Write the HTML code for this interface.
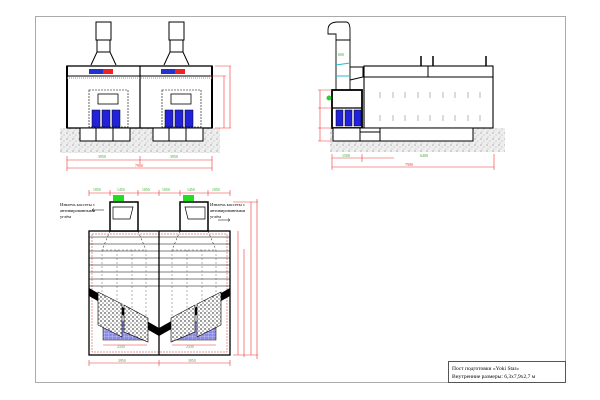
<!DOCTYPE html>
<html><head><meta charset="utf-8"><style>
html,body{margin:0;padding:0;background:#fff;}
svg{display:block;}
text{font-family:"Liberation Serif","DejaVu Serif",serif;}
</style></head><body>
<svg width="600" height="400" viewBox="0 0 600 400" xmlns="http://www.w3.org/2000/svg">
<defs>
<pattern id="gr" width="6" height="6" patternUnits="userSpaceOnUse">
<rect width="6" height="6" fill="#eee"/>
<circle cx="1" cy="1" r="0.6" fill="#888"/><circle cx="4" cy="3" r="0.5" fill="#999"/><circle cx="2" cy="5" r="0.5" fill="#aaa"/>
</pattern>
<pattern id="fil" width="4" height="4" patternUnits="userSpaceOnUse">
<rect width="4" height="4" fill="#fff"/><circle cx="1" cy="1" r="0.9" fill="#555"/><circle cx="3" cy="3" r="0.8" fill="#777"/>
</pattern>
<pattern id="bl" width="4" height="3" patternUnits="userSpaceOnUse">
<rect width="4" height="3" fill="#8a8ae8"/><path d="M0 0H4M0 0V3" stroke="#fff" stroke-width="0.4"/>
</pattern>
</defs>
<rect x="35.5" y="16.5" width="530" height="366" fill="none" stroke="#aaa" stroke-width="1"/>

<!-- FRONT VIEW -->
<g stroke="#000" fill="none">
<rect x="60" y="128" width="160" height="25" fill="url(#gr)" stroke="none"/>
<g stroke-width="1">
<path d="M96 22h15v18h-15zM97 40h13v12h-13zM91 65l6-13h13l6 13"/>
<path d="M169 22h15v18h-15zM170 40h13v12h-13zM164 65l6-13h13l6 13"/>
</g>
<rect x="67" y="66" width="145" height="62" stroke-width="1.3" fill="#fff"/>
<line x1="67" y1="76" x2="212" y2="76"/>
<line x1="140" y1="66" x2="140" y2="128" stroke-width="1.2"/>
<path d="M67 66v62M212 66v62" stroke-width="2"/>
<rect x="89" y="90" width="39" height="37" stroke-dasharray="2,1" stroke-width="0.6"/>
<rect x="162" y="90" width="39" height="37" stroke-dasharray="2,1" stroke-width="0.6"/>
<rect x="98" y="94" width="20" height="10" stroke-width="0.8"/>
<rect x="171" y="94" width="20" height="10" stroke-width="0.8"/>
<rect x="80" y="128" width="50" height="13" fill="#fff"/>
<rect x="153" y="128" width="50" height="13" fill="#fff"/>
<path d="M96 128v13M113 128v13M169 128v13M186 128v13"/>
</g>
<g fill="#2222dd" stroke="#000" stroke-width="0.5">
<rect x="92" y="110" width="8" height="17"/><rect x="102" y="110" width="8" height="17"/><rect x="112" y="110" width="8" height="17"/>
<rect x="165" y="110" width="8" height="17"/><rect x="175" y="110" width="8" height="17"/><rect x="185" y="110" width="8" height="17"/>
</g>
<rect x="89" y="69" width="14" height="5" fill="#2233cc"/><rect x="103" y="69" width="10" height="5" fill="#e22"/>
<rect x="161" y="69" width="14" height="5" fill="#2233cc"/><rect x="175" y="69" width="10" height="5" fill="#e22"/>
<line x1="67" y1="78" x2="212" y2="78" stroke="#999" stroke-dasharray="1,1"/>
<g stroke="#e33" stroke-width="0.6" fill="none">
<path d="M67 160h145M67 168h145M67 156v15M140 156v8M212 156v15M215 66h16M215 128h16M230 66v62M210 76h16M224 76v52"/>
</g>
<g fill="#3a3" font-size="4"><text x="98" y="158">3950</text><text x="170" y="158">3950</text></g>
<text x="135" y="167" font-size="4" fill="#e33">7900</text>

<!-- SIDE VIEW -->
<g stroke="#000" fill="none">
<rect x="330" y="128" width="175" height="24" fill="url(#gr)" stroke="none"/>
<path d="M328 30q0-8 10-8h8q4 0 4 8v10h-14v-6h-8z" stroke-width="0.9"/>
<rect x="336" y="40" width="14" height="50" stroke-width="0.9"/>
<path d="M336 65l14-2M336 76h14" stroke="#2bc" stroke-width="1"/>
<path d="M350 67h13v10l-13 3"/>
<rect x="364" y="66" width="129" height="62" stroke-width="1.1" fill="#fff"/>
<line x1="364" y1="77" x2="493" y2="77"/>
<line x1="428" y1="66" x2="428" y2="77"/>
<path d="M421 56v10M433 56v10M486 56v10" stroke-width="1.5"/>
<g stroke="#888" stroke-width="0.6"><path d="M380 92v6M393 92v6M405 92v6M418 92v6M430 92v6M443 92v6M455 92v6M468 92v6M480 92v6M380 115v6M393 115v6M405 115v6M418 115v6M430 115v6M443 115v6M455 115v6M468 115v6M480 115v6"/></g>
<rect x="332" y="90" width="30" height="38" stroke-width="1.8" fill="#fff"/>
<line x1="332" y1="108" x2="362" y2="108" stroke-width="1.2"/>
<rect x="333" y="128" width="140" height="13" fill="#fff"/>
<path d="M360 128v13M380 128v13M360 132h20"/>
</g>
<g fill="#2222dd" stroke="#000" stroke-width="0.5">
<rect x="336" y="110" width="7" height="16"/><rect x="345" y="110" width="7" height="16"/><rect x="354" y="110" width="7" height="16"/>
</g>
<circle cx="329" cy="98" r="2.5" fill="#3c3"/>
<g stroke="#e33" stroke-width="0.6" fill="none">
<path d="M332 158h62M362 154v8M332 167h162M332 154v16M494 154v16M318 90h14M318 108h14M318 128h14M318 141h14M320 90v51"/>
</g>
<g fill="#3a3" font-size="4"><text x="342" y="157">1500</text><text x="420" y="157">6400</text><text x="338" y="56">600</text></g>
<text x="405" y="166" font-size="4" fill="#e33">7900</text>

<!-- PLAN VIEW -->
<g stroke="#000" fill="none">
<rect x="89" y="231" width="141" height="124" stroke-width="1.3" fill="#fff"/>
<rect x="92" y="234" width="135" height="118" stroke="#c33" stroke-width="0.5" stroke-dasharray="2,1"/>
<line x1="159" y1="231" x2="159" y2="355" stroke-width="1.3"/>
<g stroke-width="0.5">
<path d="M89 237h141M89 244h141M89 251h141M89 258h141M89 265h141M89 272h141M89 279h141M89 286h141"/>
</g>
<path d="M102 250v70M117 250v70M132 250v70M146 250v70M172 250v70M187 250v70M202 250v70M216 250v70M102 250h44M172 250h44" stroke="#666" stroke-width="0.5" stroke-dasharray="2,2"/>
<rect x="110" y="202" width="28" height="29" stroke-width="1.5" fill="#fff"/>
<rect x="180" y="202" width="28" height="29" stroke-width="1.5" fill="#fff"/>
<path d="M113 207h20l-3 12h-17z M205 207h-20l3 12h17z" stroke-width="0.7"/>
<path d="M110 231l-8 19M138 231l8 19M180 231l-8 19M208 231l8 19" stroke-dasharray="2,2" stroke-width="0.5"/>
</g>
<rect x="103" y="322" width="44" height="18" fill="url(#bl)" stroke="#000" stroke-width="0.5"/>
<rect x="172" y="322" width="44" height="18" fill="url(#bl)" stroke="#000" stroke-width="0.5"/>
<path d="M89 288l70 40v8l-70-40z" fill="#000"/>
<path d="M230 288l-71 40v8l71-40z" fill="#000"/>
<path d="M98 292l24 12v33l-24-12z" fill="url(#fil)" stroke="#000" stroke-width="0.6"/>
<path d="M124 305l24 13v24l-24-10z" fill="url(#fil)" stroke="#000" stroke-width="0.6"/>
<path d="M221 292l-24 12v33l24-12z" fill="url(#fil)" stroke="#000" stroke-width="0.6"/>
<path d="M195 305l-24 13v24l24-10z" fill="url(#fil)" stroke="#000" stroke-width="0.6"/>
<rect x="113" y="195" width="11" height="6" fill="#2d2"/>
<rect x="183" y="195" width="11" height="6" fill="#2d2"/>
<g stroke="#e33" stroke-width="0.6" fill="none">
<path d="M89 193h141M89 190v6M110 190v6M138 190v6M159 190v6M180 190v6M208 190v6M230 190v6"/>
<path d="M89 363h141M89 360v6M159 360v6M230 360v6M103 345h44M172 345h44"/>
<path d="M238 231v124M244 249v108M251 202v153M257 199v160M233 202h25M233 355h25"/>
</g>
<g fill="#3a3" font-size="3.8">
<text x="93" y="191">1050</text><text x="117" y="191">1450</text><text x="142" y="191">1050</text><text x="162" y="191">1050</text><text x="187" y="191">1450</text><text x="212" y="191">1050</text>
<text x="118" y="362">3950</text><text x="188" y="362">3950</text><text x="117" y="348">2330</text><text x="186" y="348">2330</text>
</g>
<g font-size="4.5" fill="#000">
<text x="60" y="206">Извлечь кассеты с</text><text x="60" y="212">антивированными</text><text x="60" y="218">углём</text>
<text x="210" y="206">Извлечь кассеты с</text><text x="210" y="212">антивированными</text><text x="210" y="218">углём</text>
</g>
<g stroke="#000" stroke-width="0.5"><path d="M92 210h12M92 210l2-1.5M92 210l2 1.5M218 220h12M230 220l-2-1.5M230 220l-2 1.5"/></g>

<!-- TITLE -->
<rect x="448.5" y="361.5" width="117" height="21" fill="#fff" stroke="#555" stroke-width="1"/>
<text x="452" y="370" font-size="5.5">Пост подготовки «Yoki Star»</text>
<text x="452" y="378" font-size="5.5">Внутренние размеры: 6,3x7,9x2,7 м</text>
</svg>
</body></html>
